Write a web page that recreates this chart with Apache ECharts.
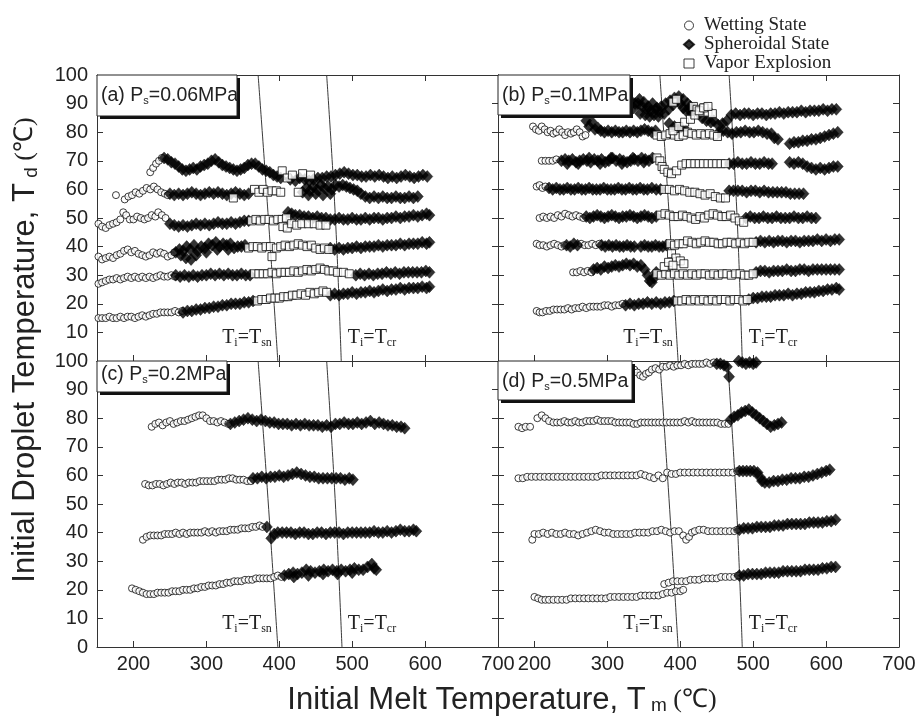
<!DOCTYPE html>
<html>
<head>
<meta charset="utf-8">
<script src="https://cdn.jsdelivr.net/npm/echarts@6.0.0/dist/echarts.min.js"></script>
<style>
html, body { margin: 0; padding: 0; background: #fff; }
#main { width: 921px; height: 722px; }
</style>
</head>
<body>
<div id="main"></div>
<script>
// tick labels
var xTicks = [200, 300, 400, 500, 600, 700];
var yTicksTop = [10, 20, 30, 40, 50, 60, 70, 80, 90, 100];
var yTicksBottom = [0, 10, 20, 30, 40, 50, 60, 70, 80, 90, 100];
var pressures = ['(a) P', '(b) P', '(c) P', '(d) P'];
var pressureValues = ['=0.06MPa', '=0.1MPa', '=0.2MPa', '=0.5MPa'];

// (a) Ps=0.06MPa
var wetA = [
  [223,66],[227,67.5],[231,69],[235,70],[239,71],
  [176,58],[188,56.5],[193,57.5],[198,58],[203,59],[208,58.5],[213,59.5],[218,60.5],[223,60],[228,61],[233,60],[238,59],[243,58.5],[247,58],
  [152,48],[157,47],[162,46.5],[167,47.5],[172,48],[177,48.5],[182,49.5],[186,52],[190,51],[195,49.5],[200,49.5],[205,50.5],[210,50],[215,49.5],[220,50],[225,51],[230,50.5],[234,52],[239,51],[244,50],
  [152,36.5],[157,35.5],[162,36],[167,36.5],[172,36],[177,37],[182,37.5],[187,38.5],[192,39],[197,38],[202,38.5],[207,37.5],[212,37],[217,36.5],[222,37],[227,38],[232,37.5],[237,38],[242,37.5],[247,36.5],[252,37],[256,38],
  [152,27],[157,27.5],[162,28],[167,28.5],[172,28.5],[177,29],[182,28.5],[187,29],[192,29.5],[197,29],[202,29.5],[207,29],[212,29.5],[217,29],[222,29.5],[227,29],[232,29.5],[237,30],[242,29.5],[247,29.5],[252,30],[257,29.5],
  [152,15],[157,15],[162,15],[167,15.5],[172,15],[177,15],[182,15.5],[187,15],[192,15.5],[197,15.5],[202,15],[207,15.5],[212,16],[217,15.5],[222,16],[227,16.5],[232,16.5],[237,17],[242,17],[247,17],[252,17],[257,17.5],[262,17],[267,17.5]
];
var sphA = [
  [242,71],[247,70.5],[252,69.5],[257,69],[262,68],[267,67],[272,66.5],[277,67],[282,67.5],[287,67],[292,68],[297,68.5],[302,69],[307,70],[312,70.5],[317,69.5],[322,68.5],[327,68],[332,67.5],[337,67],[342,66.5],[347,67],[352,67.5],[357,68.5],[362,69],[367,69],[372,68],[377,67],[382,66.5],[387,66],[392,65],[397,64.5],[402,64],
  [415,63.5],[422,63],[428,64],[435,63.5],[441,63],
  [447,63.5],[453,64],[459,64],[465,64.5],[471,64.5],[477,65],[483,65.5],[489,66],[495,65.5],[501,65],[507,65],[513,64.5],[519,64.5],[525,65],[531,64.5],[537,65],[543,64.5],[549,64],[555,64.5],[561,64],[567,64.5],[573,65],[579,64.5],[585,64],[591,64.5],[597,65],[603,64.5],
  [250,58.5],[256,58],[262,58.5],[268,58],[274,58.5],[280,59],[286,58.5],[292,58],[298,58.5],[304,59],[310,58.5],[316,59],[322,58.5],[328,58],[334,58.5],[340,59],[346,58.5],[352,58],[358,58.5],
  [432,59],[437,60.5],[442,59.5],[447,61],[452,60],[457,61.5],[462,60.5],[467,61],[472,60],[477,61.5],[482,61],[487,61.5],[492,61],[497,60.5],[502,60],[507,59.5],[512,58.5],[518,57.5],[524,57],[530,57.5],[536,57],[542,57.5],[548,57],[554,57],[560,57.5],[566,57],[572,57],[578,57.5],[584,57],[590,57.5],
  [440,58],[450,58.5],[460,58],[470,58.5],
  [250,48],[256,47.5],[262,47],[268,47.5],[274,47],[280,47.5],[286,48],[292,47.5],[298,48],[304,47.5],[310,48],[316,48.5],[322,48],[328,48],[334,48.5],[340,48],[346,48.5],[352,49],[358,49],
  [412,52],[417,51.5],[422,51],[428,51],[434,50.5],[440,50.5],[446,50],[452,50.5],[458,50],[464,50],[470,49.5],[476,49.5],[482,50],[488,49.5],[494,49.5],[500,50],[506,49.5],[512,49.5],[518,50],[524,49.5],[530,50],[536,50],[542,49.5],[548,50],[554,50],[560,50.5],[566,50],[572,50.5],[578,50.5],[584,51],[590,50.5],[596,51],[602,51.5],[606,51],
  [258,38],[263,39],[268,38.5],[273,40],[278,39],[283,40.5],[288,38.5],[293,40],[298,39.5],[303,41],[308,40.5],[313,41.5],[318,40],[323,41],[328,40.5],[333,41],[338,39.5],[343,40],[348,40],[353,40.5],
  [265,37],[272,36],[279,35.5],[286,37],[300,38],[315,39],[330,39],
  [470,39.5],[476,39],[482,39.5],[488,39],[494,39.5],[500,39.5],[506,40],[512,39.5],[518,40],[524,40],[530,40],[536,40.5],[542,40],[548,40.5],[554,40.5],[560,40.5],[566,41],[572,40.5],[578,41],[584,41],[590,41],[596,41.5],[602,41],[606,41.5],
  [258,30],[264,29.5],[270,30],[276,29.5],[282,30],[288,29.5],[294,30],[300,30],[306,30.5],[312,30],[318,30.5],[324,30],[330,30.5],[336,30],[342,30],[348,30.5],[354,30],[360,30],
  [505,30],[511,30.5],[517,30],[523,30.5],[529,30],[535,30.5],[541,30.5],[547,31],[553,30.5],[559,31],[565,30.5],[571,31],[577,31],[583,31],[589,31],[595,31],[601,31.5],[606,31],
  [268,17],[274,17.5],[280,17.5],[286,18],[292,18],[298,18.5],[304,18.5],[310,19],[316,19],[322,19.5],[328,19.5],[334,20],[340,20],[346,20],[352,20.5],[358,20.5],[364,21],
  [470,23],[476,23.5],[482,23],[488,23.5],[494,23.5],[500,24],[506,23.5],[512,24],[518,24],[524,24.5],[530,24],[536,24.5],[542,25],[548,24.5],[554,25],[560,25],[566,25.5],[572,25],[578,25.5],[584,25.5],[590,25.5],[596,26],[602,25.5],[606,26]
];
var vapA = [
  [404,66.5],[411,64],[418,65],[432,65.5],[443,65],
  [337,57],[366,60],[372,59],[378,60],[384,59],[390,59.5],[396,59.5],[402,59],[426,59],
  [362,49],[368,49.5],[374,49],[380,49.5],[386,49.5],[392,49],[398,49.5],[404,49.5],[410,50],
  [405,47],[411,46.5],[417,48],[424,47.5],[431,48],[440,48],[448,48],[456,47.5],[464,47.5],
  [358,39.5],[364,40],[370,40],[376,39.5],[382,40],[388,40],[390,36.5],[396,39.5],[402,40],[408,40.5],[414,40],[420,40.5],[426,41],[432,40.5],[438,40],[444,40.5],[450,39.5],[456,39],[462,39.5],[468,39],
  [366,30.5],[372,30.5],[378,30.5],[384,30.5],[390,31],[396,30.5],[402,31],[408,31],[414,31],[420,31.5],[426,31],[432,31.5],[438,32],[444,31.5],[450,32],[456,32.5],[462,32],[468,31.5],[474,31.5],[480,31],[488,31],[496,30.5],
  [370,21],[376,21.5],[382,21.5],[388,22],[394,22],[400,22],[406,22.5],[412,22.5],[418,23],[424,23],[430,23.5],[436,23],[442,24],[448,23.5],[454,24],[460,24.5],[465,24]
];

// (b) Ps=0.1MPa
var wetB = [
  [198,82],[202,81],[206,80.5],[210,82],[214,81],[218,80],[222,80.5],[226,79.5],[230,80],[234,81],[238,80],[242,79],[246,80],[250,79.5],[254,80],[258,81],[262,80],[266,78.5],[270,79],
  [210,70],[215,70],[220,70],[225,70],[230,70.5],
  [203,61],[207,61.5],[211,60.5],[215,61],
  [207,50],[212,50.5],[217,50],[222,50.5],[227,50],[232,51],[237,50.5],[242,51.5],[247,51],[252,50.5],[257,51],[262,50.5],[267,50],
  [203,41],[207,40.5],[212,40.5],[217,40],[222,40.5],[227,41],[232,40.5],[237,40],[241,40.5],
  [264,41],[269,40.5],[274,40.5],[279,41],[284,40.5],[289,41],
  [253,31],[258,31],[263,31.5],[268,31],[273,31.5],[278,31],
  [203,17.5],[207,17],[211,17],[216,17.5],[221,17.5],[226,18],[231,18],[236,18],[241,18],[246,18.5],[251,18],[256,18.5],[261,18.5],[266,19],[271,18.5],[276,19],[281,19],[286,19],[291,19],[296,19.5],[301,19.5],[306,19],[311,19.5],[316,19.5],[321,20]
];
var sphB = [
  [300,89],[306,89.5],[312,88.5],[318,89],[324,88],[330,89],[336,88.5],[342,90],[348,89],[354,88],[360,87.5],[366,88],[372,87],[378,86.5],[384,88],[390,89.5],[396,91],[400,90],[404,88.5],[408,87.5],[412,88],[416,86.5],
  [332,91],[338,90],[344,91.5],[350,90.5],[356,89],[362,90],[368,88.5],[374,89],[380,90],[386,91],[392,92],[398,92.5],[404,91.5],[410,90],[414,89],[420,88],[426,86.5],
  [345,86.5],[352,86],[358,85.5],[364,86],[370,85.5],[430,85],[436,84],[442,83.5],[446,84],
  [452,82.5],[458,83],[464,84],[470,86],[476,86.5],[482,86],[488,86.5],[494,86.5],[500,86],[506,86.5],[512,86.5],[518,86],[524,86.5],[530,86.5],[536,87],[542,86.5],[548,87],[554,87],[560,87],[566,87.5],[572,87],[578,87.5],[584,87.5],[590,87.5],[596,88],[602,87.5],[608,88],[614,88],
  [271,84],[275,82],[279,83.5],[283,81],[287,81.5],[291,80.5],[296,80],[301,80.5],[306,80],[311,80.5],[316,80],[321,80],[326,80.5],[331,80],[336,80.5],[341,80],[346,80.5],[351,81],[356,80.5],[361,80],[366,80.5],
  [385,83],[392,82],[400,81.5],[408,80.5],
  [453,80],[459,80.5],[465,80],[471,79.5],[477,80],[483,80],[489,80.5],[495,80],[501,80],[507,80.5],[513,80],[519,79.5],[525,79.5],[529,78],[534,77.5],
  [550,76],[556,76.5],[562,76.5],[568,77],[574,77],[580,77.5],[586,77.5],[592,78],[598,78.5],[604,79],[610,79.5],[616,80],
  [237,70],[242,70.5],[247,70],[252,70.5],[257,69.5],[262,70],[267,70.5],[272,70],[277,69.5],[282,70.5],[287,70],[292,70.5],[297,69.5],[302,70],[307,71],[312,70],[317,70.5],[322,70],[327,69.5],[332,70],[337,70.5],[342,70],[347,71],[352,70.5],[357,70],[362,71],
  [245,69],[260,69],[275,71],[290,69],[305,71],[320,69],[335,71],[350,69.5],
  [467,69],[473,69],[479,69.5],[485,69],[491,69],[497,69.5],[503,69],[509,69],[515,69.5],[521,69],[526,69],
  [550,69.5],[556,69],[562,69.5],[568,69],[574,68],[580,67.5],[586,67],[592,67.5],[598,67],[604,67.5],[610,68],[616,68],
  [220,60.5],[225,60],[230,60.5],[235,60],[240,60],[245,60.5],[250,60],[255,60],[260,60.5],[265,60],[270,60],[275,60.5],[280,60],[285,60],[290,60],[295,60.5],[300,60],[305,60],[310,60],[315,60.5],[320,60],[325,60],[330,60.5],[335,60],[340,60],[345,60.5],[350,60],[355,60],[361,60.5],[367,60],[373,60],
  [467,59.5],[473,59.5],[479,59.5],[485,59.5],[491,59],[497,59.5],[503,59.5],[509,59],[515,59.5],[521,59],[527,59],[533,59],[539,59],[545,59],[551,58.5],[557,58.5],[563,58.5],[569,58.5],
  [271,50.5],[276,50],[281,50.5],[286,51],[291,50.5],[296,50],[301,50.5],[306,51],[311,50.5],[316,50],[321,50.5],[326,50.5],[331,51],[336,50.5],[341,50],[346,50.5],[351,51],[356,50.5],[361,50],[367,50.5],
  [490,50],[496,50.5],[502,50],[508,50],[514,50.5],[520,50],[526,50],[532,50.5],[538,50],[544,50],[550,50],[556,50.5],[562,50],[568,50],[574,50.5],[580,50],[586,50],
  [244,40.5],[249,40],[254,41],[259,40.5],[292,40.5],[297,40],[302,40.5],[307,40],[312,40.5],[317,40],[322,40],[327,40.5],[332,40],[337,40],
  [346,40],[351,40.5],[356,40],[361,40],[366,40.5],[371,40],[376,40],[381,40.5],
  [504,41.5],[510,42],[516,41.5],[522,42],[528,41.5],[534,42],[540,42],[546,41.5],[552,42],[558,42],[564,41.5],[570,42],[576,42],[582,42],[588,42.5],[594,42],[600,42.5],[606,42],[612,42.5],[618,42.5],
  [281,32],[286,32.5],[291,32],[296,33],[301,32.5],[306,33],[311,33.5],[316,33],[321,33.5],[326,34],[331,33.5],[336,34],[341,33],[346,33.5],[351,32],[355,30],[358,28],[361,27.5],[364,29],[367,31],
  [504,31],[510,31.5],[516,31.5],[522,31],[528,31.5],[534,31.5],[540,31.5],[546,32],[552,31.5],[558,31.5],[564,32],[570,32],[576,31.5],[582,32],[588,32],[594,32],[600,32],[606,32],[612,32],[618,32],
  [325,19.5],[331,20],[337,19.5],[343,20],[349,20],[355,20.5],[361,20],[367,20.5],[373,20],[379,20.5],[385,20.5],[391,21],
  [494,21.5],[500,22],[506,22],[512,22.5],[518,22.5],[524,22.5],[530,23],[536,23],[542,23],[548,23.5],[554,23],[560,23.5],[566,23.5],[572,24],[578,24],[584,24],[590,24.5],[596,24.5],[602,25],[608,25],[614,25.5],[618,25]
];
var vapB = [
  [390,90.5],[395,91.5],[418,89],[423,88],[428,87],[433,88.5],[438,87],[444,86.5],
  [368,79],[374,78.5],[380,79],[386,79.5],[392,79],[398,78.5],[404,79],[410,80],[416,79.5],[422,79],[428,79.5],[434,79],[440,79.5],[446,79],[451,78.5],
  [390,80.5],[398,82],[406,83.5],[414,84.5],[420,86],[426,87.5],[432,88.5],[438,89],
  [368,71],[372,70],[375,68],[378,67],[383,66],[388,65.5],[395,66.5],[402,68.5],[408,69],[414,69],[420,69],[426,69],[432,69],[438,69],[444,69],[450,69],[456,69],[462,69],
  [378,60],[385,60],[392,59.5],[399,60],[406,59.5],[413,59],[420,59],[427,58.5],[434,58],[441,58.5],[448,57.5],[455,57],[462,57],
  [373,51],[379,51.5],[385,51],[391,50.5],[397,50.5],[403,51],[409,50.5],[415,50],[421,49.5],[427,50.5],[433,50],[439,51],[445,51.5],[451,51],[457,50.5],[463,50.5],[469,51],[475,50],[481,49],[487,48.5],
  [386,41],[392,40.5],[398,41],[404,41],[410,42],[416,41.5],[422,41],[428,41.5],[434,42],[440,41.5],[446,41.5],[452,41],[458,41],[464,41.5],[470,41.5],[476,41],[482,41.5],[488,41],[494,41.5],[500,41.5],
  [388,37.5],[394,36],[400,35],[405,34],
  [368,30.5],[374,30],[380,30.5],[386,30],[392,30.5],[398,30],[404,30.5],[410,30],[416,30.5],[422,30],[428,30.5],[434,30.5],[440,30],[446,30.5],[452,30],[458,30.5],[464,30.5],[470,30],[476,30.5],[482,30.5],[488,30],[494,30],[500,30.5],
  [378,33],[384,34.5],[390,33.5],
  [396,21],[402,21],[408,21.5],[414,21],[420,21.5],[426,21],[432,21.5],[438,21],[444,21.5],[450,21],[456,21.5],[462,21.5],[468,21],[474,21.5],[480,21.5],[486,21],[492,21.5]
];

// (c) Ps=0.2MPa
var wetC = [
  [225,77],[230,78],[235,78.5],[240,77.5],[245,78.5],[250,79],[255,78],[260,78.5],[265,79],[270,79],[275,79.5],[280,80],[285,80.5],[290,81],[295,81],[300,80],[305,79],[310,79],[315,78.5],[320,79],[325,78.5],[330,78],
  [216,57],[221,56.5],[226,56.5],[231,57],[236,57],[241,56.5],[246,57],[251,57.5],[256,57],[261,57.5],[266,57.5],[271,57],[276,57.5],[281,57.5],[286,57.5],[291,58],[296,58],[301,58],[306,58],[311,58],[316,58.5],[321,58.5],[326,58.5],[331,59],[336,59],[341,58.5],[346,58.5],[351,58.5],[356,58],[361,58],
  [213,37.5],[218,38.5],[223,39],[228,39],[233,39],[238,39],[243,39.5],[248,39.5],[253,39.5],[258,40],[263,39.5],[268,40],[273,39.5],[278,40],[283,40],[288,40],[293,40],[298,40.5],[303,40],[308,40.5],[313,40],[318,40.5],[323,40.5],[328,40.5],[333,41],[338,41],[343,41],[348,41.5],[353,41.5],[358,41.5],[363,42],[368,42],[373,42.5],[377,42],
  [198,20.5],[203,20],[208,19.5],[213,19],[218,18.5],[223,18.5],[228,18.5],[233,19],[238,19],[243,19],[248,19],[253,19.5],[258,19.5],[263,19.5],[268,20],[273,20],[278,20],[283,20.5],[288,20.5],[293,21],[298,21],[303,21.5],[308,21.5],[313,21.5],[318,22],[323,22],[328,22.5],[333,22.5],[338,23],[343,23],[348,23],[353,23.5],[358,23.5],[363,23.5],[368,24],[373,24],[378,24],[383,24],[388,24],[393,24.5],[398,25],[403,24.5]
];
var sphC = [
  [333,78],[339,78.5],[345,79],[351,79.5],[357,80],[363,79.5],[369,79],[375,79.5],[381,79],[387,78.5],[393,78.5],[399,78],[405,78],[411,78],[417,77.5],[423,78],[429,77.5],[435,78],[441,77.5],[447,77.5],[453,77.5],[459,77],[465,77.5],[471,77],[477,78],[483,78],[489,78.5],[495,78],[501,78],[507,78.5],[513,78],[519,78.5],[525,79],[531,78],[537,78.5],[543,78],[549,77.5],[555,77.5],[561,77],[567,77],[572,76.5],
  [364,59],[370,59],[376,59.5],[382,59],[388,59.5],[394,59.5],[400,60],[406,59.5],[412,60],[418,60.5],[424,61],[430,60.5],[436,60],[442,59.5],[448,59.5],[454,59],[460,59],[466,59],[472,59],[478,59],[484,59],[490,58.5],[496,59],[501,58.5],
  [383,42],[389,38],[393,39.5],[398,40],[404,40],[410,40],[416,40],[422,39.5],[428,40],[434,40],[440,39.5],[446,39.5],[452,40],[458,40],[464,39.5],[470,40],[476,40],[482,40],[488,39.5],[494,40],[500,40],[506,40],[512,40],[518,40],[524,40],[530,40.5],[536,40],[542,40],[548,40.5],[554,40],[560,40.5],[566,41],[572,40.5],[578,40.5],[584,41],[588,40.5],
  [407,25],[413,25.5],[419,26],[425,25.5],[431,26],[437,27],[443,26.5],[449,26],[455,26.5],[461,27],[467,26.5],[473,27],[479,26.5],[485,27],[491,26.5],[497,27],[503,27.5],[509,27],[515,27],[521,28],[527,29],[530,27.5],[533,27],
  [420,24.5],[440,25],[460,25.5],[480,25.5],[500,26]
];

// (d) Ps=0.5MPa
var wetD = [
  [337,97],[341,96],[345,95],[349,94.5],[353,95.5],[357,96],[361,97],[366,97.5],[371,97],[376,98],[381,98],[386,98.5],[391,98],[396,98.5],[401,98.5],[406,99],[411,98.5],[416,99],[421,99],[426,99],[431,99],[436,99.5],[441,99],[446,99.5],
  [178,77],[183,76.5],[188,77],[194,77],[204,80],[210,81],[215,80],[220,79],[226,78.5],[231,78.5],[236,78.5],[241,79],[246,78.5],[251,78.5],[256,79],[261,78.5],[266,78.5],[271,79],[276,79],[281,79],[286,79.5],[291,79],[296,79],[301,79],[306,79],[311,78.5],[316,78.5],[321,78.5],[326,78.5],[331,78.5],[336,78],[341,78],[346,78.5],[351,78.5],[356,78.5],[361,78.5],[366,78.5],[371,78.5],[376,78.5],[381,78.5],[386,78.5],[391,78.5],[396,78.5],[401,78.5],[406,79],[411,78.5],[416,79],[421,78.5],[426,78.5],[431,78.5],[436,78.5],[441,78.5],[446,78.5],[451,78.5],[456,78],[461,78],[466,78],
  [178,59],[184,59],[190,59.5],[196,59.5],[202,59.5],[208,59.5],[214,59.5],[220,59.5],[226,59.5],[232,59.5],[238,59.5],[244,59.5],[250,59.5],[256,59.5],[262,59.5],[268,59.5],[274,59.5],[280,59.5],[286,59.5],[292,60],[298,60],[304,60],[310,60],[316,60],[322,60],[328,60],[334,60],[340,60],[346,60.5],[352,60],[358,59.5],[364,59],[370,60],[376,59],[382,61],[388,60.5],[394,60.5],[400,61],[406,61],[412,61],[418,61],[424,61],[430,61],[436,61],[442,61],[448,61],[454,61],[460,61],[466,61],[472,61],[478,61.5],
  [197,37.5],[200,39.5],[206,39.5],[212,40],[218,39.5],[224,40],[230,39.5],[236,39.5],[242,40],[248,39.5],[254,39.5],[260,39],[266,39.5],[272,40],[278,40.5],[284,41],[290,40.5],[296,40],[302,40],[308,39.5],[314,39.5],[320,39.5],[326,39.5],[332,39.5],[338,40],[344,40],[350,40],[356,40],[362,40.5],[368,40.5],[374,41],[380,40.5],[386,40],[392,40.5],[398,40.5],[404,39],[408,37.5],[412,38.5],[416,40],[420,40.5],[426,41],[432,41],[438,40.5],[444,40.5],[450,40.5],[456,40.5],[462,40.5],[468,40.5],[474,40.5],[478,41],
  [200,17.5],[205,17],[210,16.5],[215,16.5],[220,16.5],[226,16.5],[232,16.5],[238,16.5],[244,16.5],[250,17],[256,17],[262,17],[268,17],[274,17],[280,17],[286,17],[292,17],[298,17],[304,17.5],[310,17.5],[316,17.5],[322,17.5],[328,17.5],[334,17.5],[340,17.5],[346,18],[352,18],[358,18],[364,18],[370,18],[376,18.5],[382,19],[388,19],[394,19.5],[400,19.5],[404,20],
  [378,22],[384,22.5],[390,23],[396,23],[402,23],[408,23],[414,23.5],[420,23.5],[426,23.5],[432,24],[438,24],[444,24],[450,24],[456,24.5],[462,24.5],[468,24.5],[474,24.5],[479,25]
];
var sphD = [
  [450,99],[455,99],[460,98.5],[464,98],[467,94.5],[480,100],[485,99.5],[490,99],[495,99.5],[500,99],[504,99.5],
  [469,79.5],[474,80.5],[479,81],[484,82],[489,82.5],[494,83],[499,82],[504,81],[509,80],[514,79],[519,78],[524,77],[529,77.5],[534,78],[539,78.5],
  [481,61.5],[486,61.5],[491,61.5],[496,61.5],[501,61.5],[506,61],[509,59.5],[512,58],[516,57.5],[522,57.5],[528,58],[534,58],[540,58.5],[546,58.5],[552,59],[558,59],[564,59],[570,59.5],[576,59.5],[582,60],[588,60.5],[594,61],[600,61.5],[605,62],
  [481,41],[487,41.5],[493,41.5],[499,41.5],[505,42],[511,42],[517,42],[523,42],[529,42.5],[535,42.5],[541,42.5],[547,43],[553,43],[559,43],[565,43],[571,43],[577,43.5],[583,43.5],[589,43.5],[595,43.5],[601,44],[607,44],[613,44.5],
  [481,25],[487,25],[493,25.5],[499,25.5],[505,25.5],[511,25.5],[517,26],[523,26],[529,26],[535,26],[541,26.5],[547,26.5],[553,26.5],[559,26.5],[565,26.5],[571,27],[577,27],[583,27],[589,27],[595,27.5],[601,27.5],[607,28],[613,28]
];

// boundary lines Ti=Tsn and Ti=Tcr
var snA = [[371,100],[385,50],[398,0]];
var crA = [[465,100],[477,50],[485,0]];
var snB = [[372,100],[385,50],[397,0]];
var crB = [[467,100],[478,50],[485,0]];
var snC = [[371,100],[385,50],[398,0]];
var crC = [[465,100],[477,50],[486,0]];
var snD = [[372,100],[385,50],[397,0]];
var crD = [[465,100],[477,50],[485,0]];

var ink = '#0d0d0d';
var sans = 'Liberation Sans, Arial, sans-serif';
var serif = 'Liberation Serif, Times New Roman, serif';

var panels = [
  {wet: wetA, sph: sphA, vap: vapA, sn: snA, cr: crA},
  {wet: wetB, sph: sphB, vap: vapB, sn: snB, cr: crB},
  {wet: wetC, sph: sphC, vap: [], sn: snC, cr: crC},
  {wet: wetD, sph: sphD, vap: [], sn: snD, cr: crD}
];
var grids = [
  {left: 97, top: 75, width: 401, height: 286},
  {left: 498, top: 75, width: 401, height: 286},
  {left: 97, top: 361, width: 401, height: 286},
  {left: 498, top: 361, width: 401, height: 286}
];
// label box of each panel: [width, height, text centre y offset]
var boxes = [[140, 41, 21], [132, 40, 21], [130, 31, 14], [134, 39, 21]];

var xAxes = [], yAxes = [], series = [], graphics = [];

panels.forEach(function (p, i) {
  var bottomRow = i >= 2, leftCol = i % 2 === 0;
  ['bottom', 'top'].forEach(function (pos) {
    xAxes.push({
      type: 'value', gridIndex: i, position: pos, min: 150, max: 700,
      axisLine: {show: true, onZero: false, lineStyle: {color: '#333', width: 1}},
      axisTick: {show: true, inside: true, length: 6, customValues: xTicks, lineStyle: {color: '#333'}},
      axisLabel: {show: pos === 'bottom' && bottomRow, customValues: xTicks, color: '#222',
        fontSize: 20, fontFamily: sans, margin: 7},
      splitLine: {show: false}
    });
  });
  ['left', 'right'].forEach(function (pos) {
    yAxes.push({
      type: 'value', gridIndex: i, position: pos, min: 0, max: 100, interval: 10,
      axisLine: {show: true, onZero: false, lineStyle: {color: '#333', width: 1}},
      axisTick: {show: true, inside: true, length: 6, lineStyle: {color: '#333'}},
      axisLabel: {show: pos === 'left' && leftCol, customValues: bottomRow ? yTicksBottom : yTicksTop,
        color: '#222', fontSize: 20, fontFamily: sans, margin: 9},
      splitLine: {show: false}
    });
  });
  var ax = 2 * i;
  [p.sn, p.cr].forEach(function (line) {
    series.push({type: 'line', xAxisIndex: ax, yAxisIndex: ax, data: line, smooth: 0.4,
      symbol: 'none', silent: true, lineStyle: {color: '#3a3a3a', width: 1}, z: 1});
  });
  series.push({name: 'Wetting State', type: 'scatter', xAxisIndex: ax, yAxisIndex: ax, data: p.wet,
    symbol: 'circle', symbolSize: 7, itemStyle: {color: '#fff', borderColor: ink, borderWidth: 1}, z: 2});
  series.push({name: 'Spheroidal State', type: 'scatter', xAxisIndex: ax, yAxisIndex: ax, data: p.sph,
    symbol: 'diamond', symbolSize: [11, 12], itemStyle: {color: '#000', borderColor: '#000', borderWidth: 0.5}, z: 3});
  series.push({name: 'Vapor Explosion', type: 'scatter', xAxisIndex: ax, yAxisIndex: ax, data: p.vap,
    symbol: 'rect', symbolSize: 8, itemStyle: {color: '#fff', borderColor: ink, borderWidth: 1}, z: 4});

  // panel label box with drop shadow
  var g = grids[i], b = boxes[i];
  graphics.push({type: 'rect', z: 100, shape: {x: g.left + 3, y: g.top + 3, width: b[0], height: b[1]},
    style: {fill: '#111'}});
  graphics.push({type: 'rect', z: 101, shape: {x: g.left, y: g.top, width: b[0], height: b[1]},
    style: {fill: '#fff'}});
  graphics.push({type: 'text', z: 102, x: g.left + 4, y: g.top + b[2],
    style: {text: '{n|' + pressures[i] + '}{s|s}{n|' + pressureValues[i] + '}', align: 'left', verticalAlign: 'middle',
      rich: {n: {fontSize: 19.5, fontFamily: sans, fill: '#222'},
             s: {fontSize: 11, fontFamily: sans, fill: '#222', padding: [9, 0, 0, 0]}}}});
  graphics.push({type: 'rect', z: 103, shape: {x: g.left, y: g.top, width: b[0], height: b[1]},
    style: {fill: 'none', stroke: '#222', lineWidth: 1}});

  // Ti=Tsn and Ti=Tcr captions
  var ly = g.top + g.height - 23;
  [[150, 'sn'], [275, 'cr']].forEach(function (c) {
    graphics.push({type: 'text', z: 50, x: g.left + c[0], y: ly,
      style: {text: '{t|T}{s|i}{t|=T}{s|' + c[1] + '}', align: 'center', verticalAlign: 'middle',
        rich: {t: {fontSize: 20, fontFamily: serif, fill: '#222'},
               s: {fontSize: 12, fontFamily: serif, fill: '#222', padding: [10, 0, 0, 0]}}}});
  });
});

// axis titles
graphics.push({type: 'text', x: 25, y: 350, rotation: Math.PI / 2,
  style: {text: '{t|Initial Droplet Temperature, T}{s| d}{u| (℃)}', align: 'center', verticalAlign: 'middle',
    rich: {t: {fontSize: 31, fontFamily: sans, fill: '#222'},
           s: {fontSize: 19, fontFamily: sans, fill: '#222', padding: [13, 0, 0, 0]},
           u: {fontSize: 26, fontFamily: serif, fill: '#222'}}}});
graphics.push({type: 'text', x: 502, y: 700,
  style: {text: '{t|Initial Melt Temperature, T}{s| m}{u| (℃)}', align: 'center', verticalAlign: 'middle',
    rich: {t: {fontSize: 31, fontFamily: sans, fill: '#222'},
           s: {fontSize: 19, fontFamily: sans, fill: '#222', padding: [12, 0, 0, 0]},
           u: {fontSize: 26, fontFamily: serif, fill: '#222'}}}});

var chart = echarts.init(document.getElementById('main'), null, {renderer: 'canvas'});
chart.setOption({
  backgroundColor: '#fff',
  animation: false,
  grid: grids,
  xAxis: xAxes,
  yAxis: yAxes,
  legend: {
    left: 678, top: 11, orient: 'vertical', itemWidth: 10, itemHeight: 9, itemGap: 0,
    selectedMode: false,
    textStyle: {fontFamily: serif, fontSize: 19, color: '#222', lineHeight: 19, padding: [0, 0, 0, 5]},
    data: [
      {name: 'Wetting State', icon: 'circle', itemStyle: {color: '#fff', borderColor: ink, borderWidth: 1}},
      {name: 'Spheroidal State', icon: 'diamond', itemStyle: {color: '#000'}},
      {name: 'Vapor Explosion', icon: 'rect', itemStyle: {color: '#fff', borderColor: ink, borderWidth: 1}}
    ]
  },
  graphic: graphics,
  series: series
});
</script>
</body>
</html>
